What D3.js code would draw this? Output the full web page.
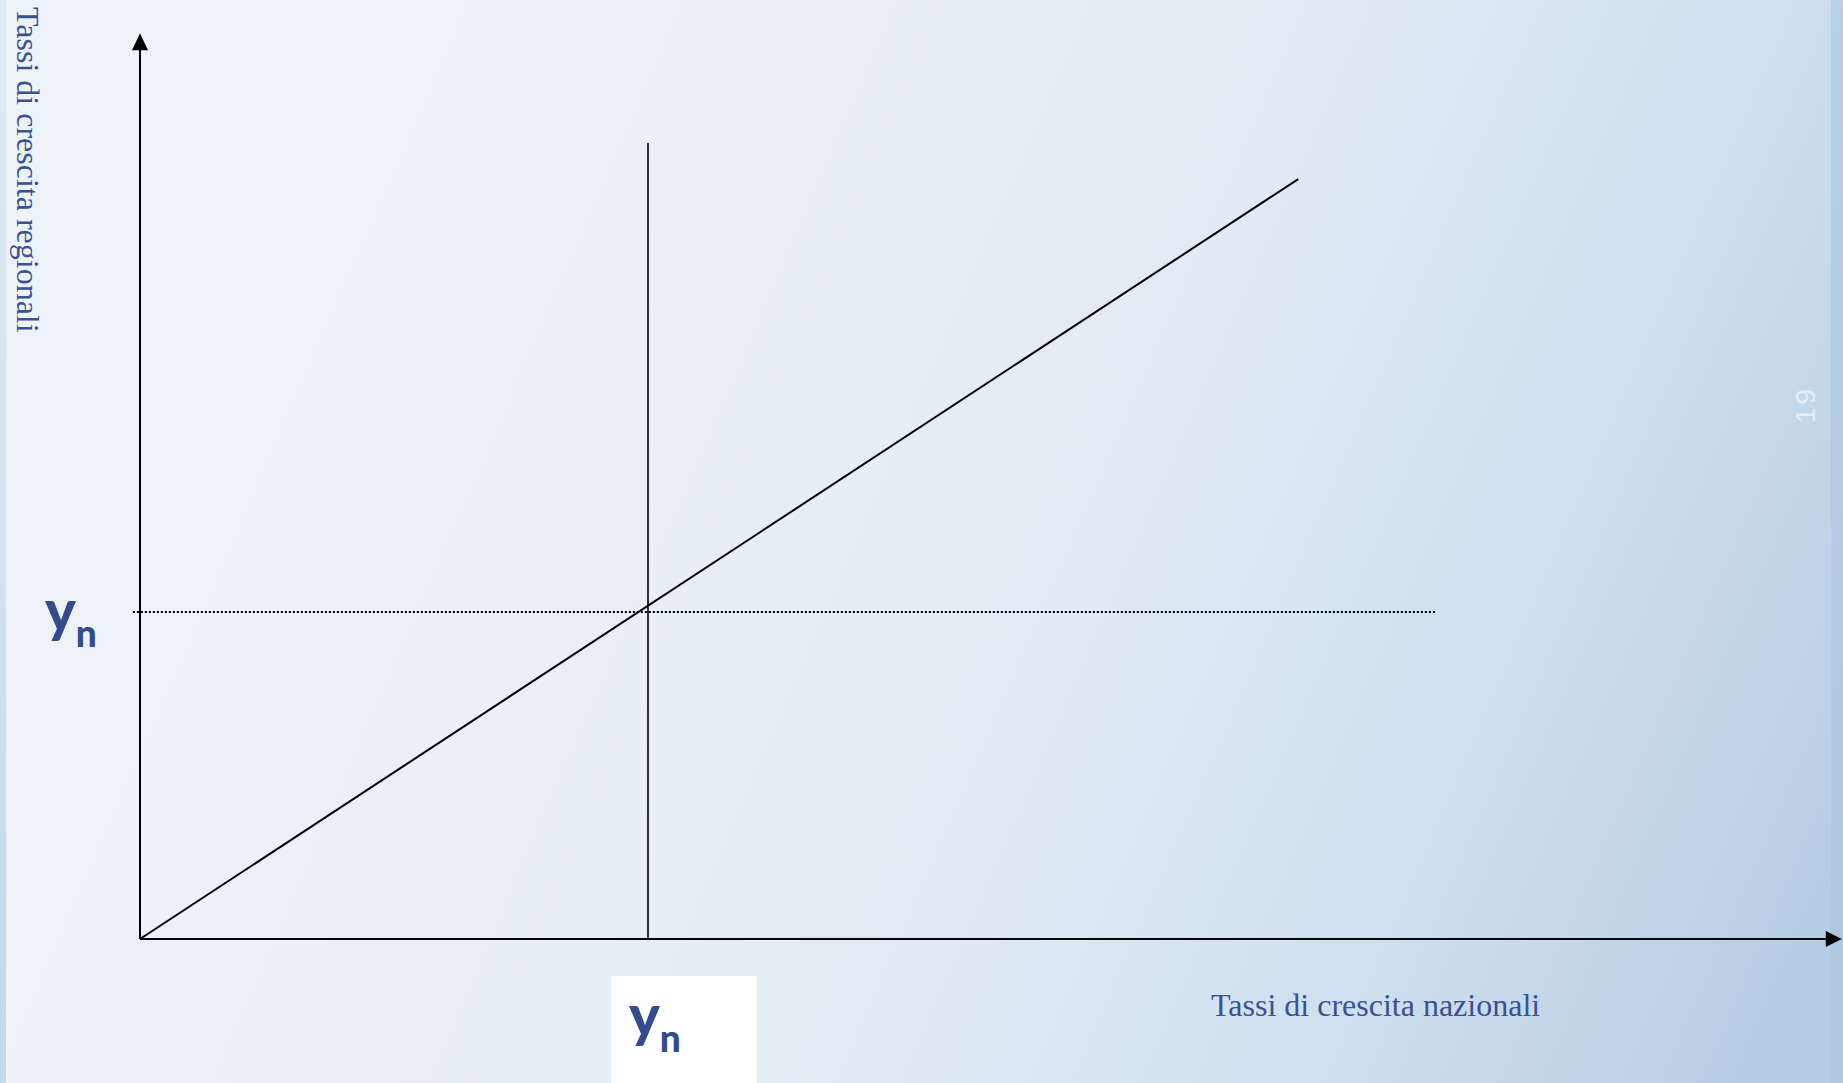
<!DOCTYPE html>
<html>
<head>
<meta charset="utf-8">
<script src="https://cdn.jsdelivr.net/npm/d3@7"></script>
<style>
  html, body { margin: 0; padding: 0; overflow: hidden; }
  svg { display: block; }
</style>
</head>
<body>
<svg id="chart" width="1843" height="1083"></svg>
<script>
// Values (national growth rate = 1 unit at yn)
const axisX = [0, 3.35];           // national growth axis extent
const axisY = [0, 2.77];           // regional growth axis extent
const diagonal = [[0, 0], [2.28, 2.324]];   // regional = national line
const verticalLine = [[1, 0], [1, 2.434]];  // x = yn
const dottedLine = [[-0.014, 1], [2.549, 1]]; // y = yn
const labels = {
  xTitle: 'Tassi di crescita nazionali',
  yTitle: 'Tassi di crescita regionali',
  yn: ['y', 'n'],
  page: '19'
};

const svg = d3.select('#chart');
const width = 1843;
const height = 1083;

// Scales: origin sits at (140, 939)
const x = d3.scaleLinear().domain([0, 1]).range([140, 648]);
const y = d3.scaleLinear().domain([0, 1]).range([939, 612]);

// Background gradient
const defs = svg.append('defs');
const grad = defs.append('linearGradient')
  .attr('id', 'bg')
  .attr('gradientUnits', 'userSpaceOnUse')
  .attr('x1', 350).attr('y1', 250)
  .attr('x2', 1843).attr('y2', 900);
grad.append('stop').attr('offset', 0).attr('stop-color', '#edf2f9');
grad.append('stop').attr('offset', 0.45).attr('stop-color', '#e3ecf5');
grad.append('stop').attr('offset', 0.75).attr('stop-color', '#cfdfee');
grad.append('stop').attr('offset', 1).attr('stop-color', '#b5cde4');

const strip = defs.append('linearGradient')
  .attr('id', 'strip')
  .attr('x1', 0).attr('y1', 0).attr('x2', 0).attr('y2', 1);
strip.append('stop').attr('offset', 0).attr('stop-color', '#dfeaf4');
strip.append('stop').attr('offset', 1).attr('stop-color', '#c4d9eb');

svg.append('rect').attr('width', width).attr('height', height).attr('fill', 'url(#bg)');
// side strips
svg.append('rect').attr('x', 0).attr('width', 6).attr('height', height).attr('fill', 'url(#strip)');
svg.append('rect').attr('x', 1831).attr('width', 12).attr('height', height)
  .attr('fill', '#a9c4df').attr('opacity', 0.55);

const line = d3.line().x(d => x(d[0])).y(d => y(d[1]));
const g = svg.append('g');

// Axes with arrow heads
g.append('path')
  .attr('d', line([[0, 0], [0, axisY[1] - 0.05]]))
  .attr('stroke', '#000').attr('stroke-width', 2).attr('fill', 'none');
g.append('path')
  .attr('d', line([[0, 0], [axisX[1] - 0.03, 0]]))
  .attr('stroke', '#000').attr('stroke-width', 2).attr('fill', 'none');

const yTip = [x(0), y(axisY[1])];
g.append('path')
  .attr('d', `M${yTip[0]},${yTip[1]} L${yTip[0] - 8},${yTip[1] + 17} L${yTip[0] + 8},${yTip[1] + 17} Z`)
  .attr('fill', '#000');
const xTip = [x(axisX[1]), y(0)];
g.append('path')
  .attr('d', `M${xTip[0]},${xTip[1]} L${xTip[0] - 16},${xTip[1] - 8} L${xTip[0] - 16},${xTip[1] + 8} Z`)
  .attr('fill', '#000');

// Reference lines
g.append('path').attr('d', line(dottedLine))
  .attr('stroke', '#000').attr('stroke-width', 2)
  .attr('stroke-dasharray', '2,2').attr('fill', 'none');
g.append('path').attr('d', line(verticalLine))
  .attr('stroke', '#000').attr('stroke-width', 1.6).attr('fill', 'none');
g.append('path').attr('d', line(diagonal))
  .attr('stroke', '#000').attr('stroke-width', 2).attr('fill', 'none');

// yn labels
const blue = '#344c89';
function ynLabel(px, py) {
  const t = svg.append('text')
    .attr('x', px).attr('y', py)
    .attr('font-family', 'Lato, "Open Sans", sans-serif')
    .attr('font-weight', 900)
    .attr('fill', blue)
    .attr('font-size', 58);
  t.append('tspan').text(labels.yn[0]);
  t.append('tspan').attr('font-size', 37).attr('dy', 16).attr('dx', 0).text(labels.yn[1]);
}
ynLabel(45, 631);

svg.append('rect').attr('x', 611).attr('y', 976).attr('width', 146).attr('height', 107).attr('fill', '#fff');
ynLabel(629, 1036);

// Axis titles
svg.append('text')
  .attr('x', 1211).attr('y', 1016)
  .attr('font-family', '"Liberation Serif", "Times New Roman", serif')
  .attr('font-size', 32)
  .attr('fill', '#3a5290')
  .text(labels.xTitle);

svg.append('text')
  .attr('transform', 'translate(17,7) rotate(90)')
  .attr('font-family', '"Liberation Serif", "Times New Roman", serif')
  .attr('font-size', 32)
  .attr('fill', '#3a5290')
  .text(labels.yTitle);

// faint page number
svg.append('text')
  .attr('transform', 'translate(1815,423) rotate(-90)')
  .attr('font-family', '"Liberation Sans", Arial, sans-serif')
  .attr('font-size', 28)
  .attr('letter-spacing', 3)
  .attr('fill', '#e6eff7')
  .text(labels.page);
</script>
</body>
</html>
